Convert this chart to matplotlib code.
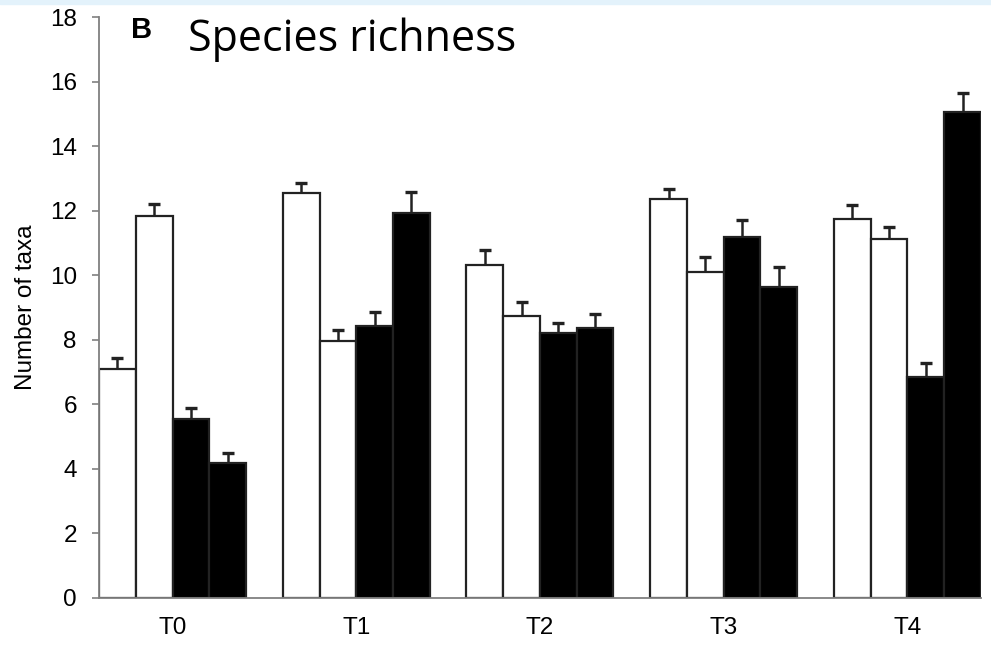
import matplotlib
matplotlib.use("Agg")
import matplotlib.pyplot as plt
import matplotlib.patches as mpatches
import numpy as np

# ── data ─────────────────────────────────────────────────────────────
GROUPS = ["T0", "T1", "T2", "T3", "T4"]

# four treatments per sampling time (two open, two filled)
S1 = [7.10, 12.54, 10.33, 12.35, 11.73]
S2 = [11.82, 7.96, 8.75, 10.09, 11.12]
S3 = [5.55, 8.42, 8.20, 11.19, 6.84]
S4 = [4.18, 11.92, 8.38, 9.64, 15.07]

E1 = [0.33, 0.31, 0.45, 0.32, 0.45]
E2 = [0.38, 0.33, 0.41, 0.46, 0.38]
E3 = [0.34, 0.44, 0.33, 0.53, 0.45]
E4 = [0.30, 0.65, 0.42, 0.63, 0.59]

YTICKS = list(range(0, 19, 2))

# ── style ────────────────────────────────────────────────────────────
AXIS_GREY = "#808080"
EDGE = "#222222"
FILLS = ["white", "white", "black", "black"]

plt.rcParams["font.family"] = ["Liberation Sans", "DejaVu Sans"]

fig = plt.figure(figsize=(9.91, 6.45), dpi=100)
ax = fig.add_axes([99 / 991, 47 / 645, 882 / 991, 581 / 645])

# thin slide border along the top edge
fig.patches.append(mpatches.Rectangle((0, 1 - 4 / 645), 1, 4 / 645,
                                      transform=fig.transFigure,
                                      color="#e3f2fb", zorder=0))

x = np.arange(len(GROUPS))
width = 0.2
series = [(S1, E1), (S2, E2), (S3, E3), (S4, E4)]

for i, (vals, errs) in enumerate(series):
    offset = (i - 1.5) * width
    vals = np.array(vals)
    errs = np.array(errs)
    ax.bar(x + offset, vals, width, color=FILLS[i], edgecolor=EDGE,
           linewidth=1.6, zorder=2)
    # upper error only, cap at the top
    ax.errorbar(x + offset, vals, yerr=[np.zeros(len(errs)), errs],
                fmt="none", ecolor=EDGE, elinewidth=1.8, capsize=0, zorder=3)
    ax.plot(x + offset, vals + errs, ls="none", marker="_", markersize=8,
            mew=2.4, color=EDGE, zorder=3)

ax.set_xlim(-0.4, len(GROUPS) - 0.6)
ax.set_ylim(0, 18)
ax.set_yticks(YTICKS)
ax.set_xticks(x)
ax.set_xticklabels(GROUPS)
ax.tick_params(axis="x", length=0, pad=14, labelsize=17.5)
ax.tick_params(axis="y", length=5, width=1.2, color=AXIS_GREY,
               labelsize=17.5, pad=11)

for side in ("top", "right"):
    ax.spines[side].set_visible(False)
for side in ("left", "bottom"):
    ax.spines[side].set_color(AXIS_GREY)
    ax.spines[side].set_linewidth(1.3)

ax.set_ylabel("Number of taxa", fontsize=17.5, labelpad=9)

# panel letter and title
fig.text(131 / 991, 1 - 38 / 645, "B", fontsize=21, fontweight="bold",
         va="baseline", ha="left")
fig.text(188 / 991, 1 - 51 / 645, "Species richness", fontsize=31,
         family=["Open Sans", "DejaVu Sans"], va="baseline", ha="left")

fig.savefig("out.png", dpi=100, facecolor="white")
